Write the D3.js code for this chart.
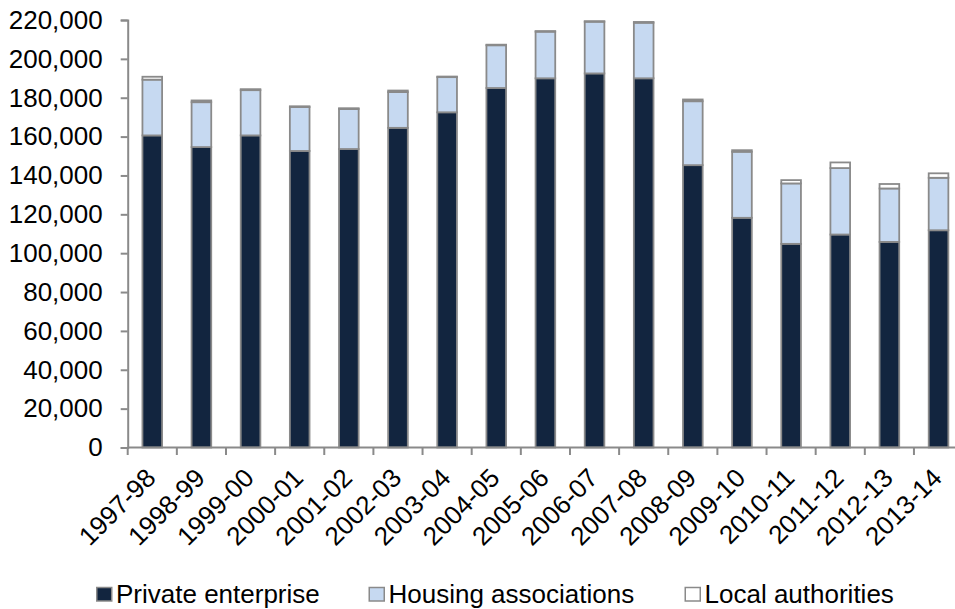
<!DOCTYPE html>
<html>
<head>
<meta charset="utf-8">
<script src="https://cdn.jsdelivr.net/npm/d3@7"></script>
<style>
  html, body { margin: 0; padding: 0; background: #fff; }
  svg { display: block; font-family: "Liberation Sans", Arial, sans-serif; }
</style>
</head>
<body>
<svg id="chart" width="955" height="609"></svg>
<script>
// Housebuilding completions by tenure, financial years
const years = ["1997-98","1998-99","1999-00","2000-01","2001-02","2002-03","2003-04","2004-05",
  "2005-06","2006-07","2007-08","2008-09","2009-10","2010-11","2011-12","2012-13","2013-14"];
const privateEnterprise = [160600,154600,160600,152600,153600,164500,172500,185000,
  190000,192500,190000,145300,118200,104800,109600,105800,111800];
const housingAssociations = [28700,23100,23300,22600,20600,18400,18100,22000,
  24000,26600,28600,32900,34000,31100,34200,27500,27000];
const localAuthorities = [1500,900,500,400,400,800,300,300,
  300,300,400,900,800,1700,2900,2300,2300];
const yTicks = [0,20000,40000,60000,80000,100000,120000,140000,160000,180000,200000,220000];
const seriesNames = ["Private enterprise","Housing associations","Local authorities"];
const seriesColors = ["#12253f","#c6d9f1","#ffffff"];

const svg = d3.select("#chart");
const plotLeft = 127.7, plotTop = 20, plotBottom = 447.5, plotRight = 963.1;
const strokeGrey = "#8a8a8a";

const x = d3.scaleBand().domain(years).range([plotLeft, plotRight]).paddingInner(0.6).paddingOuter(0.3);
const y = d3.scaleLinear().domain([0, 220000]).range([plotBottom, plotTop]);

const rows = years.map((yr, i) => ({
  year: yr,
  p: privateEnterprise[i],
  h: housingAssociations[i],
  l: localAuthorities[i]
}));
const stacked = d3.stack().keys(["p","h","l"])(rows);

// Bars
const g = svg.append("g");
stacked.forEach((layer, k) => {
  g.append("g").selectAll("rect").data(layer).join("rect")
    .attr("x", d => x(d.data.year))
    .attr("width", x.bandwidth())
    .attr("y", d => y(d[1]))
    .attr("height", d => y(d[0]) - y(d[1]))
    .attr("fill", seriesColors[k])
    .attr("stroke", strokeGrey)
    .attr("stroke-width", 1.8);
});

// Y axis
const yAxis = d3.axisLeft(y).tickValues(yTicks).tickSize(7).tickPadding(18)
  .tickFormat(d3.format(","));
const ya = svg.append("g").attr("transform", `translate(${plotLeft},0)`).call(yAxis);
ya.select(".domain").attr("stroke", strokeGrey).attr("stroke-width", 2);
ya.selectAll(".tick line").attr("stroke", strokeGrey).attr("stroke-width", 2);
ya.selectAll(".tick text").attr("font-size", 26).attr("fill", "#000")
  .attr("font-family", "Liberation Sans, Arial, sans-serif");

// X axis line and category boundary ticks
svg.append("line").attr("x1", plotLeft).attr("x2", 955).attr("y1", plotBottom).attr("y2", plotBottom)
  .attr("stroke", strokeGrey).attr("stroke-width", 2);
const step = x.step();
const boundaries = years.map(yr => x(yr) - (step - x.bandwidth()) / 2);
svg.append("g").selectAll("line").data(boundaries).join("line")
  .attr("x1", d => d).attr("x2", d => d)
  .attr("y1", plotBottom).attr("y2", plotBottom + 7.5)
  .attr("stroke", strokeGrey).attr("stroke-width", 2);

// Rotated category labels
svg.append("g").selectAll("text").data(years).join("text")
  .attr("transform", d => `translate(${x(d) + x.bandwidth() / 2 + 5},${plotBottom + 32}) rotate(-45)`)
  .attr("text-anchor", "end")
  .attr("font-size", 26)
  .attr("fill", "#000")
  .text(d => d);

// Legend
const legendItems = [
  { name: seriesNames[0], color: seriesColors[0], sx: 96 },
  { name: seriesNames[1], color: seriesColors[1], sx: 368.5 },
  { name: seriesNames[2], color: seriesColors[2], sx: 684.5 }
];
const lg = svg.append("g");
legendItems.forEach(it => {
  lg.append("rect").attr("x", it.sx + 0.75).attr("y", 587.5).attr("width", 15).attr("height", 13.5)
    .attr("fill", it.color).attr("stroke", strokeGrey).attr("stroke-width", 1.5);
  lg.append("text").attr("x", it.sx + 20).attr("y", 602.5)
    .attr("font-size", 26).attr("fill", "#000").text(it.name);
});
</script>
</body>
</html>
